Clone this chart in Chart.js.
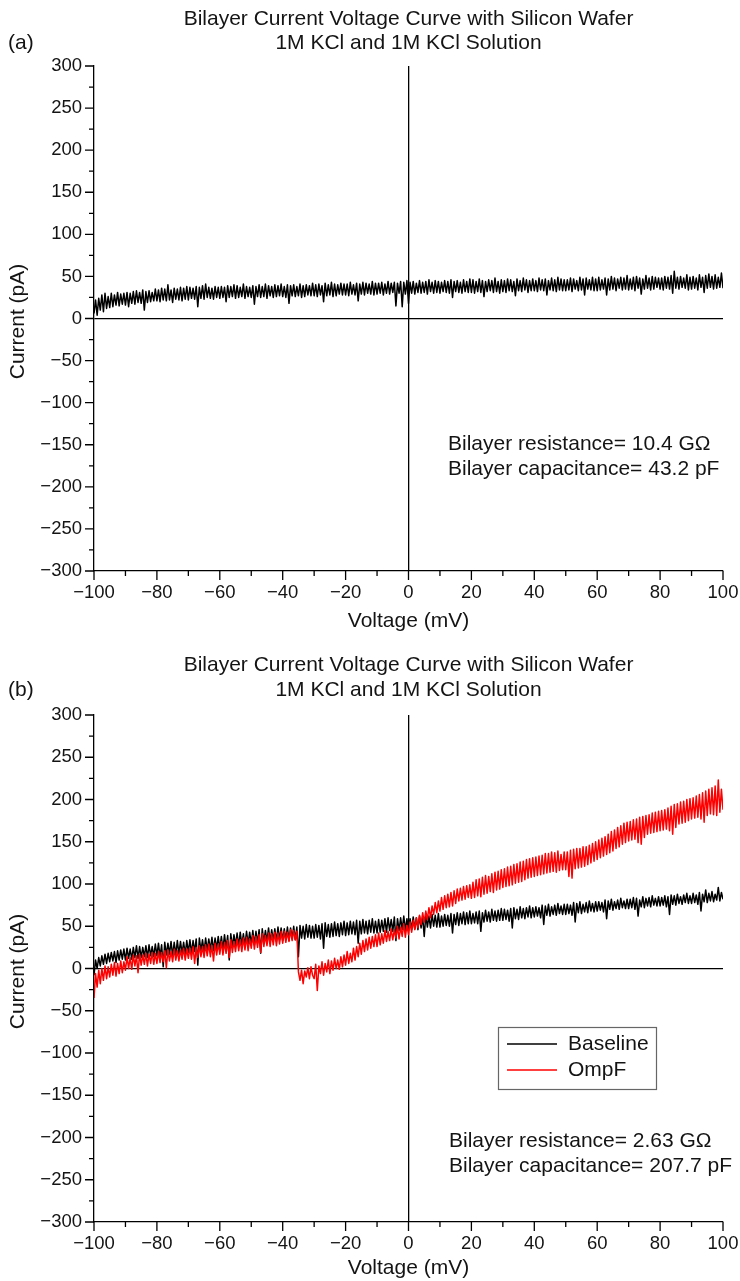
<!DOCTYPE html>
<html><head><meta charset="utf-8">
<script src="https://cdn.jsdelivr.net/npm/chart.js@4.4.0/dist/chart.umd.min.js"></script>
<style>
html,body{margin:0;padding:0;background:#fff;}
#wrap{width:740px;height:1281px;position:relative;overflow:hidden;}
canvas{position:absolute;left:0;display:block;}
</style></head><body>
<div id="wrap">
<canvas id="ca" width="740" height="640" style="top:0"></canvas>
<canvas id="cb" width="740" height="641" style="top:640px"></canvas>
</div>
<script>
// ---------- data ----------
const voltage = [
-100,-99.5,-99,-98.5,-98,-97.5,-97,-96.5,-96,-95.5,-95,-94.5,-94,-93.5,-93,-92.5,-92,-91.5,-91,-90.5,
-90,-89.5,-89,-88.5,-88,-87.5,-87,-86.5,-86,-85.5,-85,-84.5,-84,-83.5,-83,-82.5,-82,-81.5,-81,-80.5,
-80,-79.5,-79,-78.5,-78,-77.5,-77,-76.5,-76,-75.5,-75,-74.5,-74,-73.5,-73,-72.5,-72,-71.5,-71,-70.5,
-70,-69.5,-69,-68.5,-68,-67.5,-67,-66.5,-66,-65.5,-65,-64.5,-64,-63.5,-63,-62.5,-62,-61.5,-61,-60.5,
-60,-59.5,-59,-58.5,-58,-57.5,-57,-56.5,-56,-55.5,-55,-54.5,-54,-53.5,-53,-52.5,-52,-51.5,-51,-50.5,
-50,-49.5,-49,-48.5,-48,-47.5,-47,-46.5,-46,-45.5,-45,-44.5,-44,-43.5,-43,-42.5,-42,-41.5,-41,-40.5,
-40,-39.5,-39,-38.5,-38,-37.5,-37,-36.5,-36,-35.5,-35,-34.5,-34,-33.5,-33,-32.5,-32,-31.5,-31,-30.5,
-30,-29.5,-29,-28.5,-28,-27.5,-27,-26.5,-26,-25.5,-25,-24.5,-24,-23.5,-23,-22.5,-22,-21.5,-21,-20.5,
-20,-19.5,-19,-18.5,-18,-17.5,-17,-16.5,-16,-15.5,-15,-14.5,-14,-13.5,-13,-12.5,-12,-11.5,-11,-10.5,
-10,-9.5,-9,-8.5,-8,-7.5,-7,-6.5,-6,-5.5,-5,-4.5,-4,-3.5,-3,-2.5,-2,-1.5,-1,-0.5,
0,0.5,1,1.5,2,2.5,3,3.5,4,4.5,5,5.5,6,6.5,7,7.5,8,8.5,9,9.5,
10,10.5,11,11.5,12,12.5,13,13.5,14,14.5,15,15.5,16,16.5,17,17.5,18,18.5,19,19.5,
20,20.5,21,21.5,22,22.5,23,23.5,24,24.5,25,25.5,26,26.5,27,27.5,28,28.5,29,29.5,
30,30.5,31,31.5,32,32.5,33,33.5,34,34.5,35,35.5,36,36.5,37,37.5,38,38.5,39,39.5,
40,40.5,41,41.5,42,42.5,43,43.5,44,44.5,45,45.5,46,46.5,47,47.5,48,48.5,49,49.5,
50,50.5,51,51.5,52,52.5,53,53.5,54,54.5,55,55.5,56,56.5,57,57.5,58,58.5,59,59.5,
60,60.5,61,61.5,62,62.5,63,63.5,64,64.5,65,65.5,66,66.5,67,67.5,68,68.5,69,69.5,
70,70.5,71,71.5,72,72.5,73,73.5,74,74.5,75,75.5,76,76.5,77,77.5,78,78.5,79,79.5,
80,80.5,81,81.5,82,82.5,83,83.5,84,84.5,85,85.5,86,86.5,87,87.5,88,88.5,89,89.5,
90,90.5,91,91.5,92,92.5,93,93.5,94,94.5,95,95.5,96,96.5,97,97.5,98,98.5,99,99.5,
100];

// (a) bilayer current (pA)
const currentA = [
6,22,4,24,10,28,8,30,12,26,13,30,14,28,16,31,15,29,17,30,
16,31,14,30,18,32,17,33,19,31,18,34,10,32,19,33,20,31,21,35,
21,34,20,36,22,35,21,40,22,34,19,36,23,35,22,37,21,36,23,38,
22,37,24,36,23,38,14,37,24,39,23,41,25,37,24,36,23,38,25,37,
24,38,25,37,20,39,25,38,26,40,24,39,25,37,26,41,24,38,26,37,
25,39,17,38,26,40,25,38,26,41,24,39,27,38,25,40,26,39,27,41,
26,38,25,40,18,39,27,40,26,38,27,41,25,39,26,40,28,39,27,42,
27,40,26,41,28,39,20,42,27,40,28,43,26,41,27,40,29,42,28,41,
28,41,27,43,29,40,28,42,21,41,29,43,28,42,30,41,29,44,28,42,
29,42,30,43,28,41,30,44,29,42,31,43,15,42,30,44,14,43,29,45,
18,43,30,44,29,42,31,45,30,43,31,44,29,46,32,43,30,45,31,44,
30,43,32,45,31,44,30,46,25,44,32,45,31,43,30,46,32,44,31,47,
31,46,30,44,32,47,31,45,26,44,32,46,33,45,31,48,32,44,30,46,
32,45,31,47,33,46,32,44,27,47,33,45,32,48,34,46,31,45,33,47,
33,45,32,48,34,46,33,47,28,45,34,48,33,46,32,49,34,47,33,46,
33,46,34,48,32,47,35,45,33,49,34,47,28,48,35,46,34,49,33,47,
33,49,34,46,35,48,28,47,34,50,35,48,33,47,36,49,34,48,35,51,
34,47,35,49,33,50,36,48,29,47,35,51,36,48,34,50,35,49,37,48,
35,48,34,50,36,49,35,51,30,56,36,49,35,50,37,48,36,52,34,49,
35,50,36,48,34,52,37,49,31,51,36,53,37,50,35,52,36,49,37,54,
36];

// (b) baseline current (pA)
const baselineB = [
-8,10,0,13,3,15,5,17,6,18,8,19,9,20,7,21,10,22,11,23,
10,24,12,23,11,25,13,27,12,26,13,25,14,27,13,28,15,26,14,29,
15,30,14,28,2,31,16,30,17,32,15,31,16,33,17,32,18,31,17,33,
19,34,18,33,20,35,4,36,21,34,20,36,21,35,22,37,21,36,23,38,
23,38,22,40,24,39,10,41,25,40,27,42,26,43,28,41,27,44,29,43,
29,45,28,44,30,46,18,47,31,45,32,48,31,46,33,47,32,49,34,48,
33,47,34,49,33,48,35,50,34,49,14,51,36,50,35,52,37,51,36,50,
36,52,37,51,35,53,24,54,38,52,37,53,38,55,39,53,38,54,40,56,
39,54,40,56,41,55,40,57,30,56,41,58,42,56,41,57,43,59,42,56,
42,58,43,57,44,59,43,60,45,58,44,61,33,59,45,60,46,62,45,59,
45,59,46,61,47,60,46,62,48,61,38,63,49,62,48,64,50,63,49,65,
49,62,50,64,51,63,50,65,42,64,52,66,51,65,53,67,52,66,53,68,
53,65,54,67,53,68,44,66,55,69,56,67,55,70,57,68,56,69,57,71,
57,70,58,69,56,71,48,72,59,70,58,73,60,71,59,72,61,74,60,72,
61,73,62,72,60,75,52,74,63,76,62,73,64,75,63,77,65,74,64,76,
64,76,65,75,63,78,55,77,66,79,65,76,67,78,66,80,68,77,67,79,
68,79,69,78,67,81,59,80,70,82,69,79,71,81,70,83,72,80,71,82,
71,82,72,84,70,83,62,81,73,85,72,83,74,84,73,86,75,83,74,85,
74,84,75,86,73,85,64,87,76,86,75,88,77,85,76,87,78,89,77,86,
77,89,78,87,76,90,68,88,79,93,78,89,80,91,79,88,81,96,80,90,
82];

// (b) OmpF current (pA)
const ompfB = [
-35,-6,-22,-2,-18,0,-14,3,-12,2,-10,5,-8,7,-9,6,-6,9,-5,8,
-2,14,0,13,-1,16,3,15,-5,17,4,16,5,18,3,17,6,19,5,18,
6,20,7,19,8,21,1,22,9,20,8,23,10,21,9,22,11,24,10,23,
12,24,11,26,6,25,13,27,14,26,13,28,15,29,14,27,9,30,16,29,
17,32,16,31,18,33,13,34,19,32,20,35,21,34,20,36,22,37,21,35,
24,39,23,38,25,40,19,41,26,39,27,42,26,41,28,43,27,42,29,44,
30,44,31,43,32,46,33,45,34,44,-4,-14,-2,-18,-3,-10,1,-12,2,-8,
-12,5,-26,3,-6,8,-8,6,-4,10,-6,9,-2,12,0,10,-1,14,2,16,
4,20,6,18,8,24,10,26,14,30,17,33,20,35,22,37,24,38,26,40,
26,42,28,41,30,45,32,44,33,47,34,46,36,50,35,49,38,53,37,51,
40,55,43,57,46,60,48,63,52,66,55,68,58,72,60,74,64,78,66,80,
68,84,70,86,72,88,73,90,74,92,77,94,80,95,81,97,82,98,84,99,
83,102,84,105,86,106,85,108,88,110,89,109,91,112,90,114,93,115,94,117,
96,118,97,120,98,121,99,123,101,124,102,126,103,127,105,129,107,130,108,131,
109,132,110,133,111,134,112,136,113,136,114,138,115,137,114,139,116,135,117,138,
117,138,109,140,107,141,118,142,119,142,120,144,121,144,123,146,125,148,127,150,
129,152,131,154,133,156,135,159,137,162,139,164,142,167,144,169,147,172,149,173,
151,174,152,176,153,177,149,179,147,180,155,181,159,182,160,184,161,185,162,186,
163,187,164,188,165,190,163,192,159,194,167,195,171,197,172,198,173,200,175,201,
177,202,178,204,179,206,177,208,173,210,181,212,183,214,182,216,181,223,185,212,
188];

const xMajor = [-100,-80,-60,-40,-20,0,20,40,60,80,100];
const xMinor = [-90,-70,-50,-30,-10,10,30,50,70,90];
const xTickLabels = ['\u2212100','\u221280','\u221260','\u221240','\u221220','0','20','40','60','80','100'];
const yMajor = [-300,-250,-200,-150,-100,-50,0,50,100,150,200,250,300];
const yMinor = [-275,-225,-175,-125,-75,-25,25,75,125,175,225,275];
const yTickLabels = ['\u2212300','\u2212250','\u2212200','\u2212150','\u2212100','\u221250','0','50','100','150','200','250','300'];

const titleLines = ['Bilayer Current Voltage Curve with Silicon Wafer','1M KCl and 1M KCl Solution'];
const notesA = ['Bilayer resistance= 10.4 G\u03A9','Bilayer capacitance= 43.2 pF'];
const notesB = ['Bilayer resistance= 2.63 G\u03A9','Bilayer capacitance= 207.7 pF'];
const seriesNames = ['Baseline','OmpF'];

// ---------- drawing ----------
const FAM = '"Liberation Sans", Arial, Helvetica, sans-serif';
const TXT = '#141414';

const decor = {
  id: 'decor',
  afterDraw(chart, args, o) {
    const {ctx, chartArea: a, scales: {x, y}} = chart;
    ctx.save();
    ctx.strokeStyle = '#000';
    ctx.lineWidth = 1.3;
    ctx.beginPath();
    yMajor.forEach(v => { const p = y.getPixelForValue(v); ctx.moveTo(a.left - 9, p); ctx.lineTo(a.left, p); });
    yMinor.forEach(v => { const p = y.getPixelForValue(v); ctx.moveTo(a.left - 5, p); ctx.lineTo(a.left, p); });
    xMajor.forEach(v => { const p = x.getPixelForValue(v); ctx.moveTo(p, a.bottom); ctx.lineTo(p, a.bottom + 9); });
    xMinor.forEach(v => { const p = x.getPixelForValue(v); ctx.moveTo(p, a.bottom); ctx.lineTo(p, a.bottom + 5); });
    ctx.stroke();

    ctx.fillStyle = TXT;
    ctx.textBaseline = 'middle';
    ctx.font = '21px ' + FAM;
    ctx.textAlign = 'center';
    const cx = (a.left + a.right) / 2;
    ctx.fillText(titleLines[0], cx, a.top + o.t1);
    ctx.fillText(titleLines[1], cx, a.top + o.t2);
    ctx.textAlign = 'left';
    ctx.fillText(o.tag, 8, a.top + o.t2);
    ctx.textAlign = 'center';
    ctx.fillText('Voltage (mV)', cx, a.bottom + o.xt);
    ctx.save();
    ctx.translate(18, (a.top + a.bottom) / 2 + 3);
    ctx.rotate(-Math.PI / 2);
    ctx.fillText('Current (pA)', 0, 0);
    ctx.restore();
    ctx.textAlign = 'left';
    ctx.fillText(o.notes[0], o.nx, a.top + o.ny);
    ctx.fillText(o.notes[1], o.nx, a.top + o.ny + 25);
    if (o.legend) {
      const L = o.legend;
      ctx.strokeStyle = '#666';
      ctx.lineWidth = 1.2;
      ctx.strokeRect(L.x + 0.5, a.top + L.y + 0.5, L.w, L.h);
      chart.data.datasets.forEach((ds, i) => {
        const yy = a.top + L.y + 17 + i * 26;
        ctx.strokeStyle = ds.borderColor;
        ctx.lineWidth = 1.6;
        ctx.beginPath();
        ctx.moveTo(L.x + 9, yy); ctx.lineTo(L.x + 59, yy);
        ctx.stroke();
        ctx.fillStyle = TXT;
        ctx.fillText(ds.label, L.x + 70, yy);
      });
    }
    ctx.restore();
  }
};

function scalesCfg(xh) {
  const zeroGrid = {
    display: true, drawTicks: false,
    color: c => (c.tick && c.tick.value === 0) ? '#000' : 'rgba(0,0,0,0)',
    lineWidth: 1.3
  };
  return {
    x: {
      type: 'linear', min: -100, max: 100,
      afterBuildTicks: s => { s.ticks = xMajor.map(v => ({value: v})); },
      afterFit: s => { s.height = xh; s.paddingLeft = 0; s.paddingRight = 0; },
      grid: zeroGrid,
      border: {display: true, color: '#000', width: 1.3},
      ticks: {autoSkip: false, maxRotation: 0, padding: 11, color: TXT,
        font: {family: FAM, size: 18.5},
        callback: (v, i) => xTickLabels[i]}
    },
    y: {
      type: 'linear', min: -300, max: 300,
      afterBuildTicks: s => { s.ticks = yMajor.map(v => ({value: v})); },
      afterFit: s => { s.width = 94; s.paddingTop = 0; s.paddingBottom = 0; },
      grid: zeroGrid,
      border: {display: true, color: '#000', width: 1.3},
      ticks: {autoSkip: false, padding: 12, color: TXT,
        font: {family: FAM, size: 18.5},
        callback: (v, i) => yTickLabels[i]}
    }
  };
}

function pts(arr) { return voltage.map((v, i) => ({x: v, y: arr[i]})); }

const lineDs = (label, arr, color, order) => ({
  label, data: pts(arr), borderColor: color, backgroundColor: color,
  borderWidth: 1.5, pointRadius: 0, tension: 0, fill: false,
  borderJoinStyle: 'round', order
});

new Chart(document.getElementById('ca'), {
  type: 'line',
  data: {datasets: [lineDs(seriesNames[0], currentA, '#000000', 1)]},
  options: {
    responsive: false, animation: false, events: [],
    layout: {padding: {left: 0, right: 17, top: 66, bottom: 0}},
    scales: scalesCfg(69),
    plugins: {legend: {display: false}, tooltip: {enabled: false},
      decor: {t1: -47, t2: -23, tag: '(a)', xt: 50, notes: notesA, nx: 448, ny: 378}}
  },
  plugins: [decor]
});

new Chart(document.getElementById('cb'), {
  type: 'line',
  data: {datasets: [
    lineDs(seriesNames[0], baselineB, '#000000', 1),
    lineDs(seriesNames[1], ompfB, '#ff0000', 0)
  ]},
  options: {
    responsive: false, animation: false, events: [],
    layout: {padding: {left: 0, right: 17, top: 75, bottom: 0}},
    scales: scalesCfg(59),
    plugins: {legend: {display: false}, tooltip: {enabled: false},
      decor: {t1: -50, t2: -25, tag: '(b)', xt: 46, notes: notesB, nx: 449, ny: 426,
        legend: {x: 498, y: 312, w: 158, h: 62}}}
  },
  plugins: [decor]
});
</script>
</body></html>
